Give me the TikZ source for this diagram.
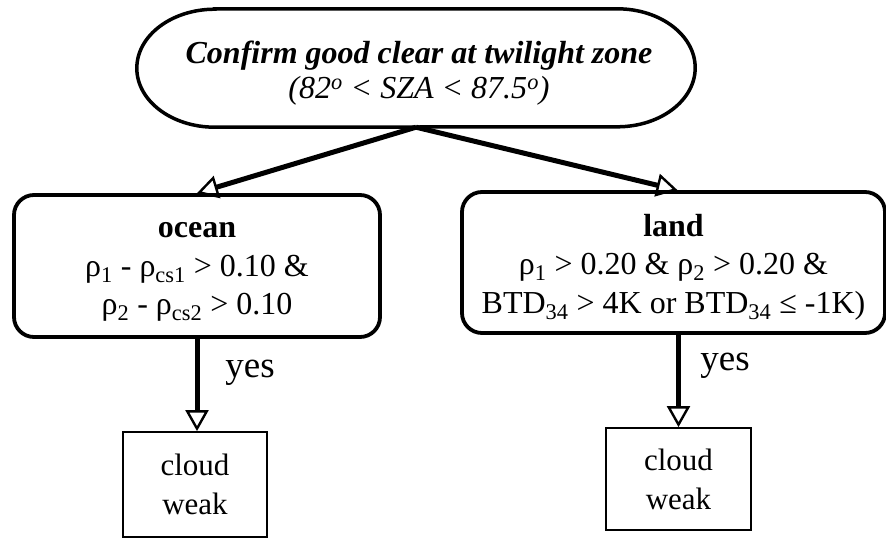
\documentclass[tikz,border=0pt]{standalone}
\usepackage{fontspec}
\setmainfont{Liberation Serif}
\usetikzlibrary{arrows.meta,calc}
\tikzset{
  flowline/.style={line width=5pt},
  opentip/.style={-{Triangle[open,length=21pt,width=23pt,line width=2.4pt]}},
  outline/.style={draw,line width=3.8pt},
  testbox/.style={outline,rounded corners=20pt},
  boxtext/.style={align=center,inner sep=0pt,font=\fontsize{32}{38.5}\selectfont},
  resultbox/.style={draw,line width=1.8pt,align=center,
    font=\fontsize{31}{39}\selectfont,inner sep=0pt},
  lbl/.style={font=\fontsize{37}{40}\selectfont,inner sep=0pt}
}
\newcommand\lowr[1]{\textsubscript{#1}}
\begin{document}
\begin{tikzpicture}[x=1pt,y=-1pt]
\useasboundingbox (0,0) rectangle (886,544);
% start point: twilight-zone test, a long capsule with elliptic ends
\node[minimum width=558pt,minimum height=118pt,inner sep=0pt] (twi) at (416,68) {};
\draw[line width=3.5pt]
  ($(twi.north west)+(78,0)$) -- ($(twi.north east)+(-78,0)$)
  arc[start angle=-90,end angle=90,x radius=78,y radius=59]
  -- ($(twi.south west)+(78,0)$)
  arc[start angle=90,end angle=270,x radius=78,y radius=59] -- cycle;
\node[align=center,inner sep=0pt,font=\fontsize{32}{35}\selectfont] (twitext) at (419,73)
  {\bfseries\itshape Confirm good clear at twilight zone\\
   \itshape (82\textsuperscript{o} < SZA < 87.5\textsuperscript{o})};
\coordinate (split) at (twi.south);
% surface-type branches
\node[testbox,minimum width=366pt,minimum height=142pt] (ocean) at (197,266) {};
\node[boxtext] (oceantext) at (197,272)
  {\textbf{ocean}\\ρ\lowr{1} - ρ\lowr{cs1} > 0.10 \&\\ρ\lowr{2} - ρ\lowr{cs2} > 0.10};
\node[testbox,minimum width=423pt,minimum height=141pt] (land) at (673.5,262.5) {};
\node[boxtext] (landtext) at (673.5,267)
  {\textbf{land}\\ρ\lowr{1} > 0.20 \& ρ\lowr{2} > 0.20 \&\\BTD\lowr{34} > 4K or BTD\lowr{34} ≤ -1K)};
% outcomes
\node[resultbox,minimum width=144pt,minimum height=105pt] (c1) at (195,484.5) {cloud\\weak};
\node[resultbox,minimum width=145pt,minimum height=102pt] (c2) at (678.5,479) {cloud\\weak};
% connectors
\draw[flowline,opentip] (split) -- (ocean.north);
\draw[flowline,opentip] (split) -- ($(land.north)+(4,0)$);
\draw[flowline,opentip] (ocean.south) -- (c1.north -| ocean.south);
\draw[flowline,opentip] (land.south -| c2.north) -- (c2.north);
\node[lbl] (y1) at (250,373) {yes};
\node[lbl] (y2) at (725,366) {yes};
\end{tikzpicture}
\end{document}
